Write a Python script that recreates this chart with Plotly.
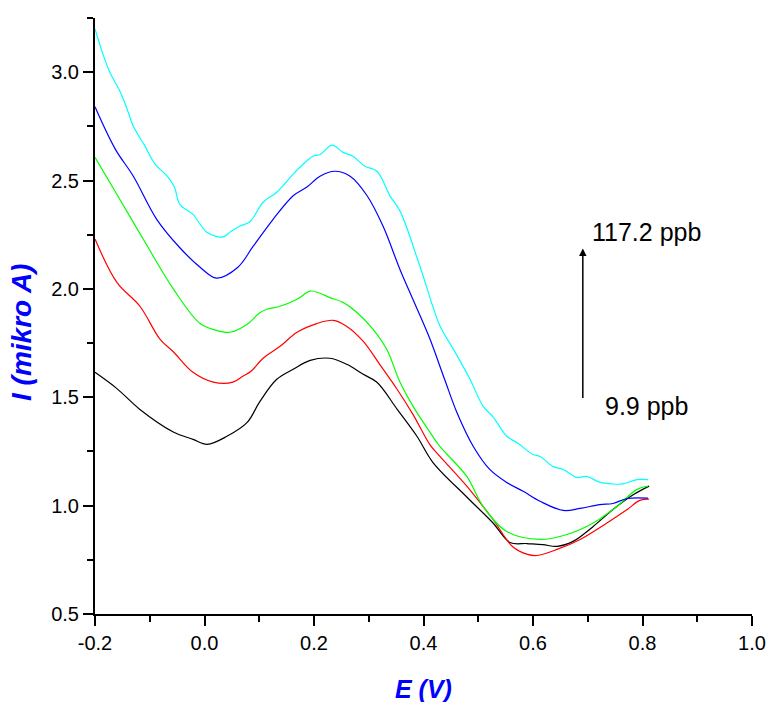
import plotly.graph_objects as go

# ---- data ----
cyan_x = [-0.200, -0.185, -0.173, -0.154, -0.140, -0.130, -0.109, -0.090, -0.068, -0.055, -0.045,
          -0.021, 0.005, 0.034, 0.048, 0.065, 0.083, 0.107, 0.132, 0.162, 0.180, 0.198,
          0.211, 0.233, 0.253, 0.271, 0.293, 0.315, 0.339, 0.357, 0.394, 0.430, 0.455,
          0.485, 0.509, 0.527, 0.552, 0.571, 0.600, 0.613, 0.637, 0.655, 0.680, 0.698,
          0.720, 0.745, 0.764, 0.790, 0.810]
cyan_y = [3.20, 3.08, 3.00, 2.91, 2.82, 2.75, 2.66, 2.575, 2.52, 2.47, 2.39,
          2.344, 2.26, 2.24, 2.265, 2.29, 2.31, 2.40, 2.446, 2.53, 2.575, 2.612,
          2.62, 2.663, 2.63, 2.612, 2.566, 2.543, 2.428, 2.36, 2.10, 1.83, 1.72,
          1.583, 1.458, 1.41, 1.32, 1.29, 1.236, 1.227, 1.18, 1.167, 1.13, 1.135,
          1.11, 1.10, 1.10, 1.12, 1.12]

blue_x = [-0.200, -0.163, -0.130, -0.087, -0.045, -0.008, 0.022, 0.061, 0.089, 0.125, 0.162,
          0.187, 0.211, 0.238, 0.266, 0.297, 0.326, 0.357, 0.381, 0.410, 0.439, 0.461, 0.491,
          0.521, 0.552, 0.582, 0.613, 0.655, 0.686, 0.722, 0.746, 0.772, 0.810]
blue_y = [2.84, 2.645, 2.52, 2.32, 2.19, 2.10, 2.05, 2.10, 2.197, 2.32, 2.43,
          2.47, 2.52, 2.543, 2.52, 2.43, 2.29, 2.09, 1.95, 1.78, 1.58, 1.43, 1.273,
          1.167, 1.107, 1.066, 1.02, 0.978, 0.987, 1.005, 1.01, 1.033, 1.035]

green_x = [-0.200, -0.154, -0.105, -0.057, -0.008, 0.020, 0.047, 0.078, 0.101, 0.114, 0.138,
           0.169, 0.193, 0.211, 0.229, 0.253, 0.279, 0.308, 0.333, 0.357, 0.381, 0.412, 0.430,
           0.479, 0.509, 0.552, 0.613, 0.662, 0.710, 0.753, 0.790, 0.810]
green_y = [2.607, 2.41, 2.20, 2.00, 1.84, 1.81, 1.80, 1.837, 1.89, 1.906, 1.92,
           1.952, 1.99, 1.98, 1.96, 1.938, 1.89, 1.813, 1.72, 1.57, 1.458, 1.338, 1.273,
           1.135, 0.996, 0.881, 0.844, 0.867, 0.92, 0.996, 1.075, 1.09]

red_x = [-0.200, -0.160, -0.118, -0.081, -0.057, -0.021, 0.016, 0.052, 0.070, 0.085, 0.107,
         0.138, 0.169, 0.205, 0.235, 0.260, 0.290, 0.320, 0.352, 0.381, 0.412, 0.430, 0.479,
         0.527, 0.563, 0.590, 0.607, 0.644, 0.686, 0.735, 0.772, 0.795, 0.812]
red_y = [2.23, 2.03, 1.92, 1.767, 1.71, 1.615, 1.57, 1.57, 1.597, 1.62, 1.68,
         1.735, 1.80, 1.84, 1.855, 1.827, 1.758, 1.652, 1.536, 1.42, 1.28, 1.227, 1.09,
         0.936, 0.81, 0.775, 0.77, 0.798, 0.844, 0.92, 0.982, 1.024, 1.03]

black_x = [-0.200, -0.160, -0.118, -0.057, -0.021, 0.005, 0.041, 0.078, 0.101, 0.132, 0.162,
           0.193, 0.229, 0.260, 0.290, 0.315, 0.352, 0.388, 0.417, 0.479, 0.527, 0.558, 0.589,
           0.618, 0.644, 0.673, 0.710, 0.746, 0.783, 0.812]
black_y = [1.615, 1.54, 1.444, 1.34, 1.306, 1.283, 1.32, 1.384, 1.48, 1.583, 1.629,
           1.67, 1.68, 1.652, 1.606, 1.569, 1.444, 1.32, 1.20, 1.04, 0.92, 0.83, 0.825,
           0.82, 0.812, 0.835, 0.904, 0.982, 1.05, 1.09]

x_tick_vals = [-0.2, 0.0, 0.2, 0.4, 0.6, 0.8, 1.0]
x_tick_text = ["-0.2", "0.0", "0.2", "0.4", "0.6", "0.8", "1.0"]
y_tick_vals = [0.5, 1.0, 1.5, 2.0, 2.5, 3.0]
y_tick_text = ["0.5", "1.0", "1.5", "2.0", "2.5", "3.0"]

series = [
    ("black", black_x, black_y),
    ("red", red_x, red_y),
    ("#00ff00", green_x, green_y),
    ("blue", blue_x, blue_y),
    ("cyan", cyan_x, cyan_y),
]

label_high = "117.2 ppb"
label_low = "9.9 ppb"
arrow_x = 0.691
arrow_y_tip = 2.187
arrow_y_tail = 1.49

fig = go.Figure()
for color, xs, ys in series:
    fig.add_trace(go.Scatter(x=xs, y=ys, mode="lines",
                             line=dict(color=color, width=1.2, shape="spline", smoothing=1.0),
                             showlegend=False, hoverinfo="skip"))

tickfont = dict(family="Liberation Sans, Arial, sans-serif", size=20, color="black")

fig.update_layout(
    width=769, height=702,
    margin=dict(l=95, r=17, t=18, b=88),
    plot_bgcolor="white", paper_bgcolor="white",
    xaxis=dict(range=[-0.2, 1.0], tickmode="array", tickvals=x_tick_vals, ticktext=x_tick_text,
               showline=True, linecolor="black", linewidth=2, mirror=False,
               ticks="outside", ticklen=10, tickwidth=2, tickcolor="black",
               minor=dict(tick0=-0.2, dtick=0.1, ticks="outside", ticklen=6, tickwidth=2,
                          tickcolor="black"),
               showgrid=False, zeroline=False, tickfont=tickfont, automargin=False),
    yaxis=dict(range=[0.5, 3.25], tickmode="array", tickvals=y_tick_vals, ticktext=y_tick_text,
               showline=True, linecolor="black", linewidth=2, mirror=False,
               ticks="outside", ticklen=10, tickwidth=2, tickcolor="black",
               minor=dict(tick0=0.5, dtick=0.25, ticks="outside", ticklen=6, tickwidth=2,
                          tickcolor="black"),
               showgrid=False, zeroline=False, tickfont=tickfont, automargin=False),
)

title_font = dict(family="Liberation Sans, Arial, sans-serif", color="blue")
fig.add_annotation(text="<b><i>E (V)</i></b>", xref="paper", yref="paper", x=0.5, y=0,
                   xanchor="center", yanchor="middle", yshift=-75, showarrow=False,
                   font=dict(size=25, **title_font))
fig.add_annotation(text="<b><i>I (mikro A)</i></b>", xref="paper", yref="paper", x=0, y=0.4715,
                   xanchor="center", yanchor="middle", xshift=-73, textangle=-90, showarrow=False,
                   font=dict(size=28, **title_font))

fig.add_annotation(x=arrow_x, y=arrow_y_tip, ax=arrow_x, ay=arrow_y_tail, xref="x", yref="y",
                   axref="x", ayref="y", text="", showarrow=True, arrowhead=2, arrowsize=1,
                   arrowwidth=1.5, arrowcolor="black")
annfont = dict(family="Liberation Sans, Arial, sans-serif", size=25, color="black")
fig.add_annotation(x=0.704, y=2.261, xref="x", yref="y", text=label_high, showarrow=False,
                   xanchor="left", yanchor="middle", font=annfont)
fig.add_annotation(x=0.728, y=1.458, xref="x", yref="y", text=label_low, showarrow=False,
                   xanchor="left", yanchor="middle", font=annfont)

fig.write_html("out.html", config={"displayModeBar": False},
               post_script="document.body.style.margin='0';document.body.style.overflow='hidden';")
